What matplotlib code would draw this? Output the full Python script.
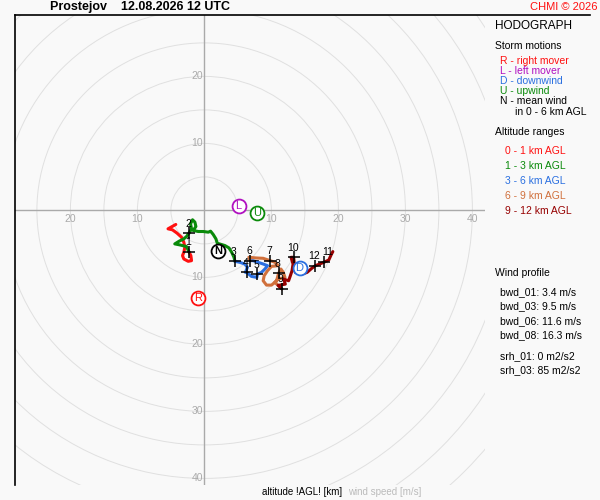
import numpy as np
import matplotlib.pyplot as plt
from matplotlib.lines import Line2D
from matplotlib.patches import Circle

plt.rcParams['font.family'] = ['Liberation Sans', 'DejaVu Sans']

# hodograph segments (u, v in m/s)
u_0_1 = [-4.27, -5.43, -4.77, -4.08, -3.42, -3.07, -2.92, -3.07, -3.27, -3.07, -2.42, -1.92, -2.02, -2.3]
v_0_1 = [-2.1, -2.75, -2.9, -3.4, -4.0, -4.75, -5.5, -6.25, -6.75, -7.25, -7.6, -7.5, -6.75, -6.2]

u_1_3 = [-2.3, -2.67, -3.67, -4.42, -3.78, -3.07, -2.67, -2.3, -1.92, -2.07, -1.77, -1.42, -1.27, -1.67,
         -0.92, -0.17, 0.58, 0.92, 1.32, 1.72, 1.92, 3.07, 3.67, 4.07, 4.42, 4.55]
v_1_3 = [-6.2, -5.4, -5.15, -5.0, -4.6, -4.25, -3.9, -3.4, -2.75, -2.0, -1.4, -1.75, -2.4, -3.0,
         -3.15, -3.15, -3.25, -3.1, -3.6, -4.25, -4.9, -5.25, -5.6, -6.25, -7.0, -7.6]

u_3_6 = [4.55, 5.28, 6.03, 6.42, 6.12, 6.33, 7.02, 7.83, 7.92, 8.52, 9.03, 9.42, 8.77, 8.02, 7.27, 6.82]
v_3_6 = [-7.6, -7.75, -8.0, -8.5, -9.25, -9.25, -9.85, -10.0, -9.5, -9.25, -8.75, -8.25, -8.0, -7.75, -7.5, -7.5]

u_6_9 = [6.82, 6.63, 7.77, 8.77, 9.82, 10.53, 11.02, 10.02, 9.42, 8.92, 8.77, 9.27, 10.02, 10.77,
         11.07, 11.42, 11.77, 12.03, 11.02, 10.53, 11.55]
v_6_9 = [-7.5, -7.0, -7.1, -7.15, -7.5, -7.75, -8.25, -8.35, -9.0, -9.75, -10.5, -11.15, -11.15, -10.5,
         -9.4, -8.75, -9.25, -10.0, -10.25, -10.75, -11.7]

u_9_12 = [11.55, 11.0, 12.08, 11.82, 12.57, 12.83, 13.08, 13.23, 12.93, 13.32, 13.42, 13.57, 14.58,
          15.33, 16.08, 16.57, 17.82, 18.57, 18.93, 19.17]
v_9_12 = [-11.7, -11.2, -11.0, -10.25, -10.5, -9.75, -9.0, -8.0, -7.0, -7.0, -8.0, -9.25, -9.5,
          -9.25, -8.6, -8.25, -7.75, -7.4, -6.6, -6.15]

layer_labels = ['0 - 1 km AGL', '1 - 3 km AGL', '3 - 6 km AGL', '6 - 9 km AGL', '9 - 12 km AGL']
layer_colors = ['#ff1010', '#0a8a0a', '#2a6fe0', '#d0703c', '#960000']

# altitude marks (km)
km_labels = ['1', '2', '3', '4', '5', '6', '7', '8', '9', '10', '12', '11']
km_u = [-2.3, -2.3, 4.55, 6.33, 7.92, 6.82, 9.82, 11.07, 11.55, 13.32, 16.57, 17.82]
km_v = [-6.2, -3.4, -7.6, -9.25, -9.5, -7.5, -7.5, -9.4, -11.7, -7.0, -8.25, -7.75]

# storm motions
motion_labels = ['R', 'L', 'D', 'U', 'N']
motion_u = [-0.9, 5.1, 14.2, 7.9, 2.1]
motion_v = [-13.1, 0.6, -8.55, -0.35, -6.1]
motion_colors = ['#ff1010', '#b010c0', '#2a6fe0', '#0a8a0a', '#000000']
motion_texts = ['R - right mover', 'L - left mover', 'D - downwind', 'U - upwind', 'N - mean wind']

profile_lines = ['bwd_01: 3.4 m/s', 'bwd_03: 9.5 m/s', 'bwd_06: 11.6 m/s', 'bwd_08: 16.3 m/s']
srh_lines = ['srh_01: 0 m2/s2', 'srh_03: 85 m2/s2']

bg = '#f9f9f9'
W, H = 600, 500
fig = plt.figure(figsize=(6, 5), dpi=100, facecolor=bg)

# hodograph axes: pixel box 15..485, origin at (204.4, 210.4), 6.7 px per m/s
ox, oy, sc = 204.4, 210.4, 6.7
ax = fig.add_axes([15 / W, 1 - 485 / H, 470 / W, 470 / H])
ax.set_facecolor(bg)
ax.set_xlim((15 - ox) / sc, (485 - ox) / sc)
ax.set_ylim((oy - 485) / sc, (oy - 15) / sc)
ax.set_xticks([])
ax.set_yticks([])
for s in ['top', 'right', 'bottom']:
    ax.spines[s].set_visible(False)
ax.spines['left'].set_color('black')
ax.spines['left'].set_linewidth(1.2)

for r in range(5, 75, 5):
    ax.add_patch(Circle((0, 0), r, fill=False, ec='#e0e0e0', lw=0.7, zorder=1))
ax.axhline(0, color='#aaaaaa', lw=1, zorder=2)
ax.axvline(0, color='#aaaaaa', lw=1, zorder=2)

lab_kw = dict(color='#aaaaaa', fontsize=7.5, zorder=3)
for r in [10, 20, 30, 40]:
    ax.text(r, -1.25, str(r), ha='center', va='center', **lab_kw)
for r in [10, 20]:
    ax.text(-r, -1.25, str(r), ha='center', va='center', **lab_kw)
    ax.text(-0.2, r, str(r), ha='right', va='center', **lab_kw)
for r in [10, 20, 30, 40]:
    ax.text(-0.2, -r, str(r), ha='right', va='center', **lab_kw)

segs = [(u_0_1, v_0_1), (u_1_3, v_1_3), (u_3_6, v_3_6), (u_6_9, v_6_9), (u_9_12, v_9_12)]
for (u, v), c in zip(segs, layer_colors):
    ax.plot(u, v, color=c, lw=2.2, solid_joinstyle='round', solid_capstyle='round', zorder=4)

ax.plot(km_u, km_v, '+', color='black', ms=9, mew=1.1, zorder=6)
for lab, u, v in zip(km_labels, km_u, km_v):
    dx = 2.5 if lab == '11' else -0.8
    ax.annotate(lab, (u, v), xytext=(dx, 7.5 if lab == '11' else 6.8), textcoords='offset points',
                ha='center', va='center', fontsize=7.5, color='black', zorder=7)

for lab, u, v, c in zip(motion_labels, motion_u, motion_v, motion_colors):
    ax.plot(u, v, 'o', ms=10, mfc='white', mec=c, mew=1.3, zorder=8)
    ax.text(u, v, lab, color=c, fontsize=8, ha='center', va='center', zorder=9,
            fontweight='bold' if lab == 'N' else 'normal')

# frame line on top
fig.add_artist(Line2D([15 / W, 590 / W], [1 - 15 / H, 1 - 15 / H], color='black', lw=1.2))


def ftext(x, y, s, **kw):
    fig.text(x / W, 1 - y / H, s, va='center', **kw)


ftext(50, 7, 'Prostejov    12.08.2026 12 UTC', fontsize=9, fontweight='bold')
ftext(530, 7, 'CHMI © 2026', fontsize=8, color='#ff1010')
ftext(495, 26, 'HODOGRAPH', fontsize=8.5)
ftext(495, 46, 'Storm motions', fontsize=7.5)
for i, (t, c) in enumerate(zip(motion_texts, motion_colors)):
    ftext(500, 61 + 10 * i, t, fontsize=7.5, color=c)
ftext(515, 112, 'in 0 - 6 km AGL', fontsize=7.5)
ftext(495, 132, 'Altitude ranges', fontsize=7.5)
for i, (t, c) in enumerate(zip(layer_labels, layer_colors)):
    ftext(505, 151 + 15 * i, t, fontsize=7.5, color=c)

ftext(495, 272.5, 'Wind profile', fontsize=7.5)
for i, t in enumerate(profile_lines):
    ftext(500, 292 + 14.5 * i, t, fontsize=7.5)
for i, t in enumerate(srh_lines):
    ftext(500, 356 + 14 * i, t, fontsize=7.5)

ftext(262, 492, 'altitude !AGL! [km]', fontsize=7)
ftext(348, 492, 'wind speed [m/s]', fontsize=7, color='#bbbbbb')

fig.savefig('out.png', dpi=100, facecolor=bg)
